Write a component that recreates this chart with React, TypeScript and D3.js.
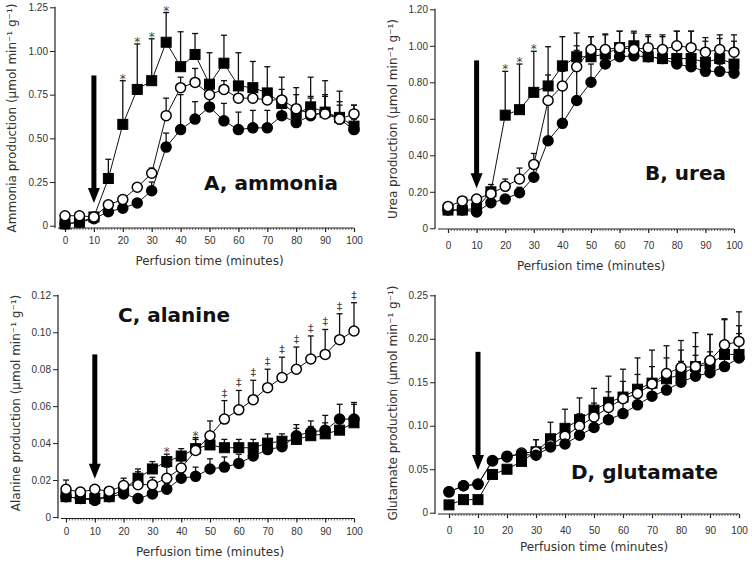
import React, { useRef, useEffect } from 'react';
import * as d3 from 'd3';

// perfusion time points (minutes)
const times = [0, 5, 10, 15, 20, 25, 30, 35, 40, 45, 50, 55, 60, 65, 70, 75, 80, 85, 90, 95, 100];

// A, ammonia
const ammoniaSq = [0.01, 0.02, 0.05, 0.27, 0.58, 0.78, 0.83, 1.05, 0.91, 0.98, 0.81, 0.93, 0.80, 0.79, 0.76, 0.70, 0.64, 0.68, 0.65, 0.62, 0.57];
const ammoniaSqErr = [0.01, 0.01, 0.01, 0.11, 0.25, 0.26, 0.24, 0.17, 0.20, 0.12, 0.18, 0.16, 0.19, 0.15, 0.15, 0.15, 0.15, 0.17, 0.18, 0.15, 0.12];
const ammoniaOpen = [0.057, 0.057, 0.05, 0.12, 0.15, 0.22, 0.30, 0.63, 0.79, 0.82, 0.75, 0.78, 0.73, 0.73, 0.72, 0.72, 0.67, 0.64, 0.64, 0.61, 0.64];
const ammoniaOpenErr = [0.01, 0.01, 0.01, 0.01, 0.02, 0.02, 0.03, 0.10, 0.06, 0.08, 0.05, 0.05, 0.05, 0.04, 0.05, 0.06, 0.08, 0.10, 0.10, 0.08, 0.05];
const ammoniaFilled = [0.01, 0.02, 0.04, 0.08, 0.10, 0.13, 0.20, 0.45, 0.55, 0.61, 0.68, 0.60, 0.55, 0.56, 0.56, 0.63, 0.59, 0.63, 0.65, 0.61, 0.55];
const ammoniaFilledErr = [0.01, 0.01, 0.01, 0.01, 0.02, 0.02, 0.05, 0.08, 0.20, 0.10, 0.10, 0.10, 0.10, 0.10, 0.10, 0.10, 0.10, 0.10, 0.10, 0.10, 0.06];
const ammoniaTicks = [0, 0.25, 0.5, 0.75, 1.0, 1.25];
const ammoniaTickLabels = ['0', '0.25', '0.50', '0.75', '1.00', '1.25'];

// B, urea
const ureaSq = [0.10, 0.10, 0.11, 0.20, 0.62, 0.65, 0.745, 0.78, 0.89, 0.94, 0.94, 0.955, 0.99, 1.00, 0.94, 0.93, 0.93, 0.93, 0.91, 0.93, 0.90];
const ureaSqErr = [0.01, 0.01, 0.01, 0.04, 0.24, 0.25, 0.225, 0.215, 0.16, 0.13, 0.11, 0.11, 0.09, 0.08, 0.12, 0.13, 0.15, 0.15, 0.135, 0.13, 0.16];
const ureaOpen = [0.12, 0.15, 0.16, 0.19, 0.23, 0.27, 0.35, 0.70, 0.78, 0.885, 0.98, 0.98, 0.99, 0.98, 0.99, 0.98, 1.00, 0.99, 0.965, 0.98, 0.965];
const ureaOpenErr = [0.01, 0.02, 0.02, 0.03, 0.04, 0.06, 0.06, 0.14, 0.08, 0.09, 0.07, 0.08, 0.09, 0.09, 0.06, 0.07, 0.08, 0.09, 0.06, 0.06, 0.06];
const ureaFilled = [0.10, 0.10, 0.09, 0.14, 0.16, 0.195, 0.28, 0.48, 0.575, 0.70, 0.80, 0.90, 0.94, 0.945, 0.94, 0.93, 0.90, 0.885, 0.86, 0.86, 0.85];
const ureaFilledErr = [0.01, 0.01, 0.02, 0.02, 0.02, 0.03, 0.05, 0.22, 0.30, 0.30, 0.10, 0.08, 0.06, 0.05, 0.05, 0.05, 0.05, 0.05, 0.04, 0.04, 0.04];
const ureaTicks = [0, 0.2, 0.4, 0.6, 0.8, 1.0, 1.2];
const ureaTickLabels = ['0', '0.20', '0.40', '0.60', '0.80', '1.00', '1.20'];

// C, alanine
const alanineSq = [0.011, 0.010, 0.010, 0.011, 0.015, 0.021, 0.026, 0.030, 0.033, 0.037, 0.039, 0.0375, 0.0375, 0.0375, 0.040, 0.041, 0.042, 0.044, 0.045, 0.047, 0.051];
const alanineSqErr = [0.002, 0.002, 0.002, 0.002, 0.004, 0.005, 0.004, 0.004, 0.004, 0.005, 0.003, 0.0045, 0.0045, 0.0045, 0.005, 0.004, 0.006, 0.005, 0.006, 0.008, 0.010];
const alanineOpen = [0.015, 0.0135, 0.015, 0.014, 0.017, 0.0175, 0.0175, 0.021, 0.0265, 0.036, 0.044, 0.053, 0.058, 0.0635, 0.070, 0.0755, 0.080, 0.0855, 0.088, 0.096, 0.1007];
const alanineOpenErr = [0.005, 0.002, 0.002, 0.002, 0.004, 0.007, 0.004, 0.006, 0.004, 0.007, 0.008, 0.010, 0.0105, 0.0105, 0.010, 0.011, 0.012, 0.0125, 0.0135, 0.014, 0.0153];
const alanineFilled = [0.011, 0.010, 0.009, 0.011, 0.0125, 0.010, 0.0125, 0.015, 0.021, 0.022, 0.026, 0.027, 0.029, 0.033, 0.0365, 0.038, 0.044, 0.046, 0.047, 0.053, 0.053];
const alanineFilledErr = [0.001, 0.001, 0.001, 0.001, 0.002, 0.002, 0.002, 0.003, 0.004, 0.005, 0.0055, 0.0055, 0.005, 0.004, 0.004, 0.004, 0.006, 0.006, 0.008, 0.008, 0.009];
const alanineTicks = [0, 0.02, 0.04, 0.06, 0.08, 0.10, 0.12];
const alanineTickLabels = ['0', '0.02', '0.04', '0.06', '0.08', '0.10', '0.12'];

// D, glutamate
const glutamateSq = [0.009, 0.015, 0.015, 0.044, 0.05, 0.059, 0.07, 0.085, 0.097, 0.107, 0.118, 0.127, 0.133, 0.142, 0.149, 0.154, 0.159, 0.168, 0.171, 0.182, 0.182];
const glutamateSqErr = [0.002, 0.002, 0.002, 0.003, 0.004, 0.005, 0.014, 0.019, 0.022, 0.025, 0.025, 0.03, 0.032, 0.036, 0.038, 0.038, 0.039, 0.039, 0.034, 0.040, 0.033];
const glutamateOpen = [0.024, 0.031, 0.0326, 0.060, 0.064, 0.0686, 0.070, 0.078, 0.088, 0.0997, 0.110, 0.121, 0.131, 0.137, 0.148, 0.160, 0.167, 0.168, 0.175, 0.193, 0.197];
const glutamateOpenErr = [0.002, 0.002, 0.002, 0.003, 0.003, 0.004, 0.014, 0.010, 0.012, 0.014, 0.016, 0.018, 0.020, 0.022, 0.020, 0.018, 0.020, 0.023, 0.030, 0.030, 0.034];
const glutamateFilled = [0.024, 0.031, 0.033, 0.0595, 0.065, 0.067, 0.066, 0.0755, 0.079, 0.089, 0.098, 0.107, 0.114, 0.124, 0.134, 0.141, 0.150, 0.157, 0.161, 0.168, 0.178];
const glutamateFilledErr = [0.002, 0.002, 0.002, 0.003, 0.003, 0.004, 0.004, 0.006, 0.008, 0.010, 0.012, 0.014, 0.016, 0.018, 0.020, 0.022, 0.024, 0.024, 0.024, 0.026, 0.028];
const glutamateTicks = [0, 0.05, 0.10, 0.15, 0.20, 0.25];
const glutamateTickLabels = ['0', '0.05', '0.10', '0.15', '0.20', '0.25'];

const xTicks = [0, 10, 20, 30, 40, 50, 60, 70, 80, 90, 100];

const panels = [
  {
    title: 'A, ammonia', yLabel: 'Ammonia production (µmol min⁻¹ g⁻¹)',
    sq: ammoniaSq, sqErr: ammoniaSqErr, open: ammoniaOpen, openErr: ammoniaOpenErr, filled: ammoniaFilled, filledErr: ammoniaFilledErr,
    yMax: 1.25, ticks: ammoniaTicks, tickLabels: ammoniaTickLabels,
    arrow: [0.86, 0.13],
    notes: [{ s: 'sq', t: 20, sym: '*' }, { s: 'sq', t: 25, sym: '*' }, { s: 'sq', t: 30, sym: '*' }, { s: 'sq', t: 35, sym: '*' }],
    order: ['sq', 'filled', 'open'],
    box: { axisX: 55, x0: 65, x1: 354, y0: 225.7, yTop: 7.3, xAxisY: 228, tickY: 243.5, titleY: 264.5, labX: 16, labY: 118, headX: 204, headY: 190 },
  },
  {
    title: 'B, urea', yLabel: 'Urea production (µmol min⁻¹ g⁻¹)',
    sq: ureaSq, sqErr: ureaSqErr, open: ureaOpen, openErr: ureaOpenErr, filled: ureaFilled, filledErr: ureaFilledErr,
    yMax: 1.2, ticks: ureaTicks, tickLabels: ureaTickLabels,
    arrow: [0.92, 0.22],
    notes: [{ s: 'sq', t: 20, sym: '*' }, { s: 'sq', t: 25, sym: '*' }, { s: 'sq', t: 30, sym: '*' }],
    order: ['sq', 'filled', 'open'],
    box: { axisX: 435, x0: 448, x1: 734, y0: 228.3, yTop: 9.3, xAxisY: 229, tickY: 248.5, titleY: 269.5, labX: 397, labY: 119, headX: 645, headY: 180 },
  },
  {
    title: 'C, alanine', yLabel: 'Alanine production (µmol min⁻¹ g⁻¹)',
    sq: alanineSq, sqErr: alanineSqErr, open: alanineOpen, openErr: alanineOpenErr, filled: alanineFilled, filledErr: alanineFilledErr,
    yMax: 0.12, ticks: alanineTicks, tickLabels: alanineTickLabels,
    arrow: [0.088, 0.0207],
    notes: [{ s: 'sq', t: 35, sym: '*' }, { s: 'open', t: 45, sym: '*' },
      { s: 'open', t: 55, sym: '‡' }, { s: 'open', t: 60, sym: '‡' }, { s: 'open', t: 65, sym: '‡' }, { s: 'open', t: 70, sym: '‡' },
      { s: 'open', t: 75, sym: '‡' }, { s: 'open', t: 80, sym: '‡' }, { s: 'open', t: 85, sym: '‡' }, { s: 'open', t: 90, sym: '‡' },
      { s: 'open', t: 95, sym: '‡' }, { s: 'open', t: 100, sym: '‡' }],
    order: ['sq', 'filled', 'open'],
    box: { axisX: 58, x0: 66, x1: 354, y0: 517, yTop: 295.3, xAxisY: 518.5, tickY: 535, titleY: 556, labX: 19.5, labY: 403, headX: 118, headY: 322 },
  },
  {
    title: 'D, glutamate', yLabel: 'Glutamate production (µmol min⁻¹ g⁻¹)',
    sq: glutamateSq, sqErr: glutamateSqErr, open: glutamateOpen, openErr: glutamateOpenErr, filled: glutamateFilled, filledErr: glutamateFilledErr,
    yMax: 0.25, ticks: glutamateTicks, tickLabels: glutamateTickLabels,
    arrow: [0.185, 0.049],
    notes: [],
    order: ['sq', 'open', 'filled'],
    box: { axisX: 435, x0: 449, x1: 739, y0: 512.7, yTop: 295.3, xAxisY: 514, tickY: 533.7, titleY: 551, labX: 397, labY: 403, headX: 571, headY: 479 },
  },
];

const TEXT = '#333';
const sans = '"DejaVu Sans", Verdana, sans-serif';
const arial = '"Liberation Sans", Arial, sans-serif';

function drawPanel(svg: any, p: any) {
  const b = p.box;
  const x = d3.scaleLinear().domain([0, 100]).range([b.x0, b.x1]);
  const y = d3.scaleLinear().domain([0, p.yMax]).range([b.y0, b.yTop]);
  const g = svg.append('g');

  // y axis
  const yAxis = d3.axisLeft(y).tickValues(p.ticks).tickFormat((d: any, i: number) => p.tickLabels[i]).tickSize(5).tickPadding(2);
  const ya = g.append('g').attr('transform', `translate(${b.axisX},0)`).call(yAxis);
  ya.select('.domain').remove();
  ya.selectAll('text').attr('font-family', arial).attr('font-size', 10).attr('fill', TEXT);
  ya.selectAll('line').attr('stroke', '#222');
  g.append('line').attr('x1', b.axisX).attr('x2', b.axisX).attr('y1', b.yTop - 0.5).attr('y2', b.xAxisY).attr('stroke', '#222').attr('stroke-width', 1.2);

  // x axis: minor ticks every minute, major every 10
  const minor = d3.axisBottom(x).tickValues(d3.range(0, 101, 1)).tickSize(2).tickFormat(() => '');
  const mn = g.append('g').attr('transform', `translate(0,${b.xAxisY})`).call(minor);
  mn.select('.domain').remove();
  mn.selectAll('line').attr('stroke', '#444').attr('stroke-width', 0.8);
  const xAxis = d3.axisBottom(x).tickValues(xTicks).tickSize(4).tickFormat(d3.format('d'));
  const xa = g.append('g').attr('transform', `translate(0,${b.xAxisY})`).call(xAxis);
  xa.select('.domain').remove();
  xa.selectAll('line').attr('stroke', '#222').attr('stroke-width', 1.2);
  xa.selectAll('text').attr('font-family', arial).attr('font-size', 10).attr('fill', TEXT)
    .attr('dy', null).attr('y', b.tickY - b.xAxisY);
  g.append('line').attr('x1', b.axisX + 3).attr('x2', b.x1).attr('y1', b.xAxisY).attr('y2', b.xAxisY).attr('stroke', '#222').attr('stroke-width', 1.2);

  // axis titles
  g.append('text').attr('x', (b.x0 + b.x1) / 2).attr('y', b.titleY).attr('text-anchor', 'middle')
    .attr('font-family', sans).attr('font-size', 12).attr('fill', TEXT).text('Perfusion time (minutes)');
  g.append('text').attr('transform', `translate(${b.labX},${b.labY}) rotate(-90)`).attr('text-anchor', 'middle')
    .attr('font-family', sans).attr('font-size', 12).attr('fill', TEXT).text(p.yLabel);

  // panel heading
  g.append('text').attr('x', b.headX).attr('y', b.headY).attr('font-family', sans).attr('font-weight', 'bold')
    .attr('font-size', 20).attr('fill', '#111').text(p.title);

  const series: any = {
    sq: { v: p.sq, e: p.sqErr },
    open: { v: p.open, e: p.openErr },
    filled: { v: p.filled, e: p.filledErr },
  };

  // error bars (upper only)
  p.order.forEach((k: string) => {
    const s = series[k];
    const eb = g.append('g').attr('stroke', '#111').attr('stroke-width', 1.3);
    times.forEach((t, i) => {
      const top = y(s.v[i] + s.e[i]);
      eb.append('line').attr('x1', x(t)).attr('x2', x(t)).attr('y1', y(s.v[i])).attr('y2', top);
      eb.append('line').attr('x1', x(t) - 3).attr('x2', x(t) + 3).attr('y1', top).attr('y2', top);
    });
  });

  // connecting lines
  const line = d3.line<number>().x((d, i) => x(times[i])).y(d => y(d));
  p.order.forEach((k: string) => {
    g.append('path').attr('d', line(series[k].v)).attr('fill', 'none').attr('stroke', '#111').attr('stroke-width', 1);
  });

  // markers
  p.order.forEach((k: string) => {
    const s = series[k];
    const mg = g.append('g');
    times.forEach((t, i) => {
      if (k === 'sq') {
        mg.append('rect').attr('x', x(t) - 5).attr('y', y(s.v[i]) - 5).attr('width', 10).attr('height', 10)
          .attr('fill', '#000').attr('stroke', '#000').attr('stroke-width', 1);
      } else {
        mg.append('circle').attr('cx', x(t)).attr('cy', y(s.v[i])).attr('r', 5)
          .attr('fill', k === 'open' ? '#fff' : '#000').attr('stroke', '#000').attr('stroke-width', 1.5);
      }
    });
  });

  // significance symbols
  p.notes.forEach((n: any) => {
    const s = series[n.s];
    const i = times.indexOf(n.t);
    const top = y(s.v[i] + s.e[i]);
    g.append('text').attr('x', x(n.t)).attr('y', n.sym === '*' ? top + 2 : top - 4).attr('text-anchor', 'middle')
      .attr('font-family', sans).attr('font-size', n.sym === '*' ? 12 : 11).attr('fill', '#444').text(n.sym);
  });

  // arrow marking the start of the infusion
  const ax = x(10);
  const yTop = y(p.arrow[0]);
  const yTip = y(p.arrow[1]);
  g.append('line').attr('x1', ax).attr('x2', ax).attr('y1', yTop).attr('y2', yTip - 12).attr('stroke', '#000').attr('stroke-width', 5);
  g.append('path').attr('d', `M${ax - 6},${yTip - 15}L${ax + 6},${yTip - 15}L${ax},${yTip}Z`).attr('fill', '#000');
}

function App() {
  const ref = useRef<SVGSVGElement>(null);

  useEffect(() => {
    const svg = d3.select(ref.current);
    svg.selectAll('*').remove();
    svg.append('rect').attr('width', 752).attr('height', 564).attr('fill', '#fff');
    panels.forEach(p => drawPanel(svg, p));
  }, []);

  return (
    <svg ref={ref} width={752} height={564} style={{ position: 'absolute', left: 0, top: 0 }} />
  );
}

export default App;
